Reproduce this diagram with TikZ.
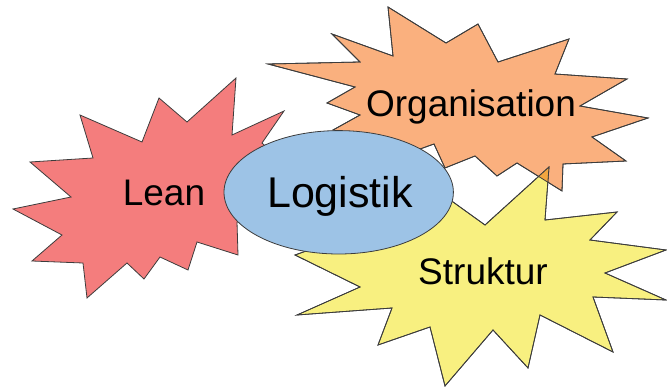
\documentclass[tikz,border=0pt]{standalone}
\usepackage{fontspec}
\setmainfont{Liberation Sans}
\usetikzlibrary{shapes.geometric}

\definecolor{leanfill}{HTML}{F47D7D}
\definecolor{orgfill}{HTML}{FAB07E}
\definecolor{strukfill}{HTML}{F8F080}
\definecolor{mixfill}{HTML}{F3A63F}
\definecolor{logfill}{HTML}{9DC3E6}
\definecolor{outline}{HTML}{3C3C3C}

% outlines of the three bursts, in pixel units (y grows downward)
\newcommand\leanburst{(236,78) -- (232,135) -- (284,111) -- (262,143) -- (300,178)
  -- (252,190) -- (292,212) -- (237,222) -- (238,255) -- (197,242) -- (188,270)
  -- (160,257) -- (144,279) -- (127,263) -- (87,298) -- (83,263) -- (32,261)
  -- (62,235) -- (13,209) -- (71,197) -- (30,162) -- (93,158) -- (80,115)
  -- (142,142) -- (159,98) -- (187,122) -- cycle}
\newcommand\orgburst{(388,7) -- (446,43) -- (478,24) -- (498,62) -- (569,39)
  -- (555,74) -- (627,79) -- (580,106) -- (648,118) -- (592,137) -- (626,161)
  -- (563,164) -- (562,191) -- (517,163) -- (497,176) -- (475,156) -- (445,168)
  -- (434,144) -- (395,158) -- (385,142) -- (333,130) -- (360,115) -- (327,103)
  -- (355,87) -- (268,64) -- (360,62) -- (332,34) -- (393,56) -- cycle}
\newcommand\strukburst{(549,167) -- (545,220) -- (617,212) -- (590,240) -- (666,250)
  -- (605,273) -- (666,300) -- (593,297) -- (613,352) -- (540,315) -- (528,368)
  -- (493,330) -- (445,386) -- (430,327) -- (378,345) -- (392,308) -- (297,315)
  -- (360,287) -- (295,255) -- (345,237) -- (435,189) -- (485,225) -- cycle}

\tikzset{
  burst/.style={draw=outline, line width=0.8pt, line join=miter},
  word/.style={anchor=base, inner sep=0pt, font=\fontsize{37}{40}\selectfont},
}

\begin{document}
\begin{tikzpicture}[x=1pt, y=-1pt]
\useasboundingbox (0,0) rectangle (667,387);

% bursts
\path[burst, fill=leanfill] \leanburst;
\path[burst, fill=orgfill] \orgburst;
\path[burst, fill=strukfill] \strukburst;
\begin{scope}
  \clip \orgburst;
  \fill[mixfill] \strukburst;
\end{scope}
\draw[burst] \orgburst;
\draw[burst] \strukburst;

% central ellipse
\node[ellipse, draw=outline, line width=0.8pt, fill=logfill, inner sep=0pt,
      minimum width=229.4pt, minimum height=123.4pt]
  (logistikshape) at (338.7,192.3) {};

% labels
\node[word] (lean) at (164,205.5) {Lean};
\node[word] (organisation) at (471,116.5) {Organisation};
\node[word] (struktur) at (483,284.5) {Struktur};
\node[word, font=\fontsize{43}{46}\selectfont] (logistik) at (340,208) {Logistik};
\end{tikzpicture}
\end{document}
